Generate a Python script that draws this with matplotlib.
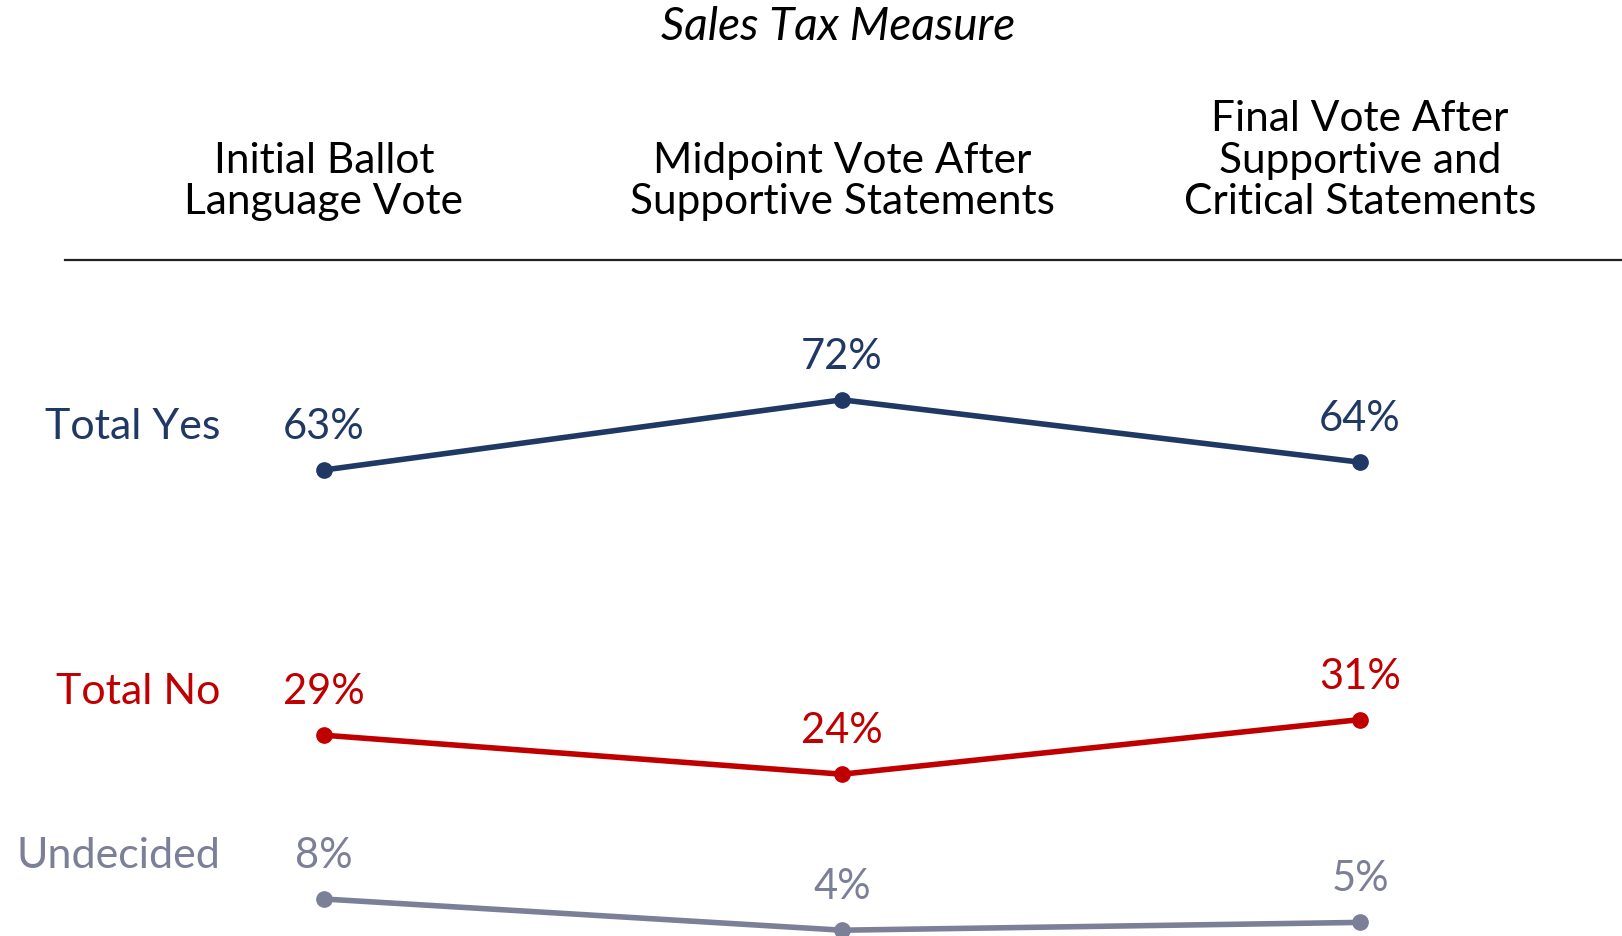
import matplotlib
matplotlib.use("Agg")
import matplotlib.pyplot as plt
from matplotlib.lines import Line2D

plt.rcParams['font.family'] = ['Lato', 'DejaVu Sans']

title = "Sales Tax Measure"
stages = ["Initial Ballot\nLanguage Vote",
          "Midpoint Vote After\nSupportive Statements",
          "Final Vote After\nSupportive and\nCritical Statements"]
series_names = ["Total Yes", "Total No", "Undecided"]
yes_vals = [63, 72, 64]
no_vals = [29, 24, 31]
undecided_vals = [8, 4, 5]
colors = ["#1F3864", "#C00000", "#7B7F97"]

W, H = 1622, 937
fig = plt.figure(figsize=(W / 100, H / 100), dpi=100)
ax = fig.add_axes([0, 0, 1, 1])
ax.axis('off')

# column spacing 518 px, first column at x=324 px; 7.8 px per point, 63% at y=471 px
ax.set_xlim(-324 / 518, -324 / 518 + W / 518)
ax.set_ylim(63 - (H - 471) / 7.8, 63 + 471 / 7.8)

x = range(len(stages))
for name, vals, c in zip(series_names, [yes_vals, no_vals, undecided_vals], colors):
    ax.plot(x, vals, color=c, lw=4, marker='o', markersize=11, solid_capstyle='round')
    for xi, v in zip(x, vals):
        ax.annotate(f"{v}%", (xi, v), xytext=(0, 44), textcoords='offset pixels',
                    ha='center', va='center', color=c, fontsize=30)
    ax.annotate(name, (0, vals[0]), xytext=(-104, 44), textcoords='offset pixels',
                ha='right', va='center', color=c, fontsize=31)

fig.text(838 / W, 1 - 27 / H, title, ha='center', va='center', fontsize=33,
         style='italic', color='black')
for i, s in enumerate(stages):
    xf = (324 + 518 * i) / W
    fig.text(xf, 1 - 221 / H, s, ha='center', va='bottom', fontsize=30.5,
             color='black', linespacing=1.11)

fig.add_artist(Line2D([65 / W, 1], [1 - 261 / H, 1 - 261 / H], color='#222222', lw=1.6))

fig.savefig("out.png", dpi=100, facecolor='white')
